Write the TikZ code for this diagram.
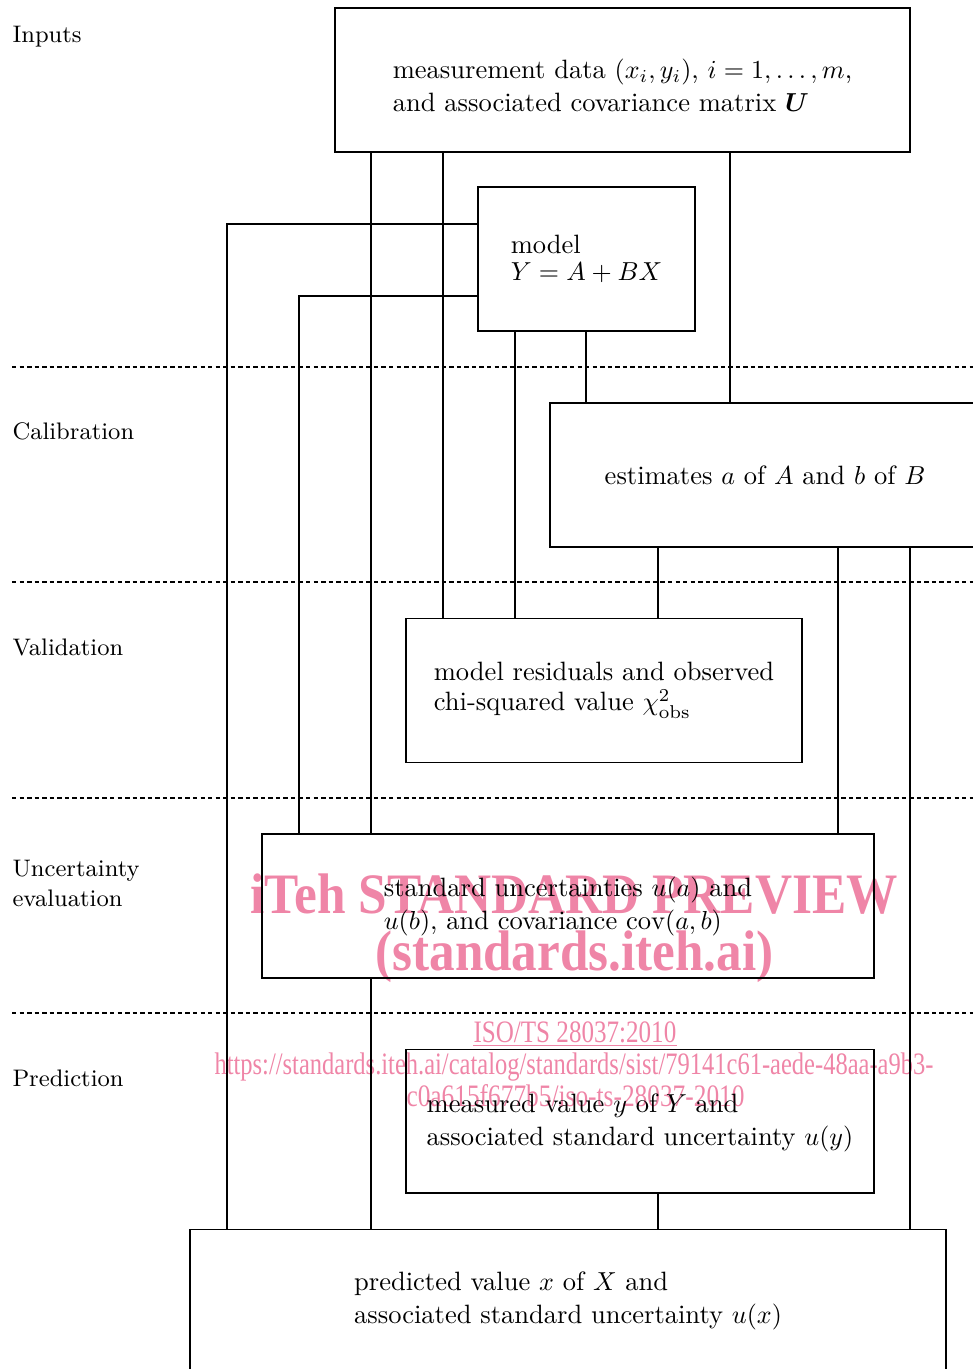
\documentclass[tikz,border=0pt]{standalone}
\usepackage{amsmath}
\usepackage{graphicx}
\usepackage{fontspec}
\newfontfamily\wmfont{Liberation Serif}
\definecolor{wm}{RGB}{239,133,167}
\begin{document}
\begin{tikzpicture}[x=0.384615pt,y=-0.384615pt,
  box/.style={draw, line width=0.4pt, inner sep=0pt, minimum height=55.38pt, align=left,
    font=\fontsize{10.2}{12.7}\selectfont},
  boxtext/.style={inner sep=0pt, align=left, font=\fontsize{10.2}{12.7}\selectfont},
  bw/.style={minimum width={#1*0.384615pt}},
  lab/.style={anchor=west, inner sep=0pt, align=left, font=\fontsize{9.2}{11.5}\selectfont},
  conn/.style={line width=0.4pt},
  sepline/.style={dash pattern=on 1.7pt off 1.2pt, line width=0.4pt},
  wmtext/.style={text=wm, inner sep=0pt, anchor=base west}]
\useasboundingbox (0,0) rectangle (973,1369);
\clip (0,0) rectangle (973,1369);

% watermark (behind)
\node[wmtext] (wm1) at (250,913) {\wmfont\bfseries\fontsize{22}{22}\selectfont\resizebox{249pt}{\height}{iTeh STANDARD PREVIEW}};
\node[wmtext] (wm2) at (375,970) {\wmfont\bfseries\fontsize{22}{22}\selectfont\resizebox{153pt}{\height}{(standards.iteh.ai)}};
\node[wmtext] (iso) at (473,1042) {\wmfont\fontsize{12}{12}\selectfont\resizebox{78pt}{\height}{ISO/TS 28037:2010}};
\draw[wm, line width=0.4pt] ([yshift=-1.3pt]iso.base west) -- ([yshift=-1.3pt]iso.base east);
\node[wmtext] (url1) at (214,1074) {\wmfont\fontsize{12}{12}\selectfont\resizebox{276.5pt}{\height}{https://standards.iteh.ai/catalog/standards/sist/79141c61-aede-48aa-a9b3-}};
\node[wmtext] (url2) at (406,1106) {\wmfont\fontsize{12}{12}\selectfont\resizebox{130pt}{\height}{c0a615f677b5/iso-ts-28037-2010}};

% separators
\foreach \yy in {367,582,798,1013} \draw[sepline] (12,\yy) -- (973,\yy);

% phase labels
\node[lab] (lInputs) at (12,37) {Inputs};
\node[lab] (lCal) at (12,431) {Calibration};
\node[lab] (lVal) at (12,647) {Validation};
\node[lab] (lUnc) at (12,883) {Uncertainty\\evaluation};
\node[lab] (lPred) at (12,1078) {Prediction};

% boxes
\node[box,bw=575] (inp) at (622.5,80) {};
\node[boxtext] (inpT) at (622.5,85) {measurement data $(x_i,y_i)$, $i=1,\dots,m$,\\and associated covariance matrix $\boldsymbol{U}$};
\node[box,bw=217,font=\fontsize{10.2}{10.4}\selectfont] (model) at (586.5,259) {model\\$Y=A+BX$};
\node[box,bw=430] (est) at (765,475) {estimates $a$ of $A$ and $b$ of $B$};
\node[box,bw=396,font=\fontsize{10.2}{11.6}\selectfont] (res) at (604,690.5) {model residuals and observed\\chi-squared value $\chi^2_{\text{obs}}$};
\node[box,bw=612] (unc) at (568,906) {standard uncertainties $u(a)$ and\\$u(b)$, and covariance $\operatorname{cov}(a,b)$};
\node[box,bw=468] (meas) at (640,1121) {};
\node[boxtext] (measT) at (640,1123) {measured value $y$ of $Y$ and\\associated standard uncertainty $u(y)$};
\node[box,bw=756] (pred) at (568,1301) {predicted value $x$ of $X$ and\\associated standard uncertainty $u(x)$};

% x / y guide coordinates
\foreach \xx in {227,299,371,443,515,586,658,730,838,910} \coordinate (c\xx) at (\xx,0);
\coordinate (cy224) at (0,224);
\coordinate (cy296) at (0,296);

% connectors
\draw[conn] (inp.south -| c371) -- (unc.north -| c371);
\draw[conn] (inp.south -| c443) -- (res.north -| c443);
\draw[conn] (inp.south -| c730) -- (est.north -| c730);
\draw[conn] (model.west |- cy224) -| (pred.north -| c227);
\draw[conn] (model.west |- cy296) -| (unc.north -| c299);
\draw[conn] (model.south -| c515) -- (res.north -| c515);
\draw[conn] (model.south -| c586) -- (est.north -| c586);
\draw[conn] (est.south -| c658) -- (res.north -| c658);
\draw[conn] (est.south -| c838) -- (unc.north -| c838);
\draw[conn] (est.south -| c910) -- (pred.north -| c910);
\draw[conn] (unc.south -| c371) -- (pred.north -| c371);
\draw[conn] (meas.south -| c658) -- (pred.north -| c658);
\end{tikzpicture}
\end{document}
